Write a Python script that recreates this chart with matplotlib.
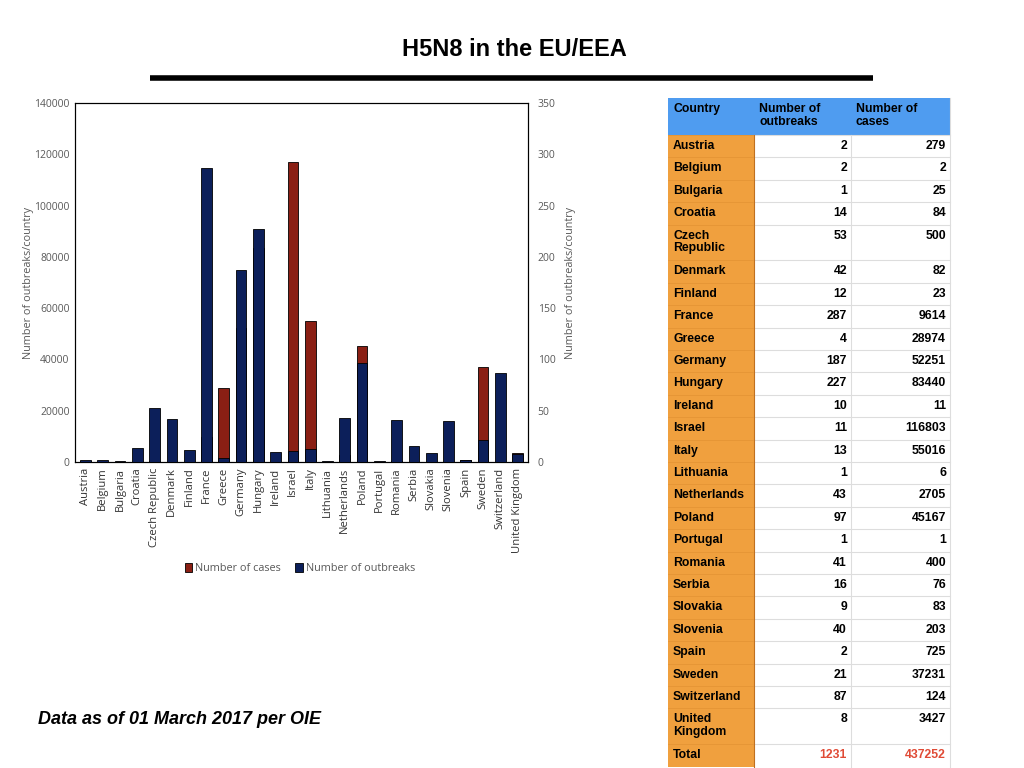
import numpy as np
import matplotlib.pyplot as plt
from matplotlib.patches import Rectangle

countries = ["Austria", "Belgium", "Bulgaria", "Croatia", "Czech Republic", "Denmark",
             "Finland", "France", "Greece", "Germany", "Hungary", "Ireland", "Israel",
             "Italy", "Lithuania", "Netherlands", "Poland", "Portugal", "Romania",
             "Serbia", "Slovakia", "Slovenia", "Spain", "Sweden", "Switzerland",
             "United Kingdom"]
outbreaks = [2, 2, 1, 14, 53, 42, 12, 287, 4, 187, 227, 10, 11, 13, 1, 43, 97, 1, 41,
             16, 9, 40, 2, 21, 87, 8]
cases = [279, 2, 25, 84, 500, 82, 23, 9614, 28974, 52251, 83440, 11, 116803, 55016, 6,
         2705, 45167, 1, 400, 76, 83, 203, 725, 37231, 124, 3427]
total_outbreaks = 1231
total_cases = 437252

red = "#8a1f14"
navy = "#0c1f5a"
grey = "#595959"
chart_font = ['Open Sans', 'DejaVu Sans']

fig = plt.figure(figsize=(10.24, 7.68), dpi=100)
plt.rcParams['font.family'] = ['Liberation Sans', 'DejaVu Sans']

# chart
ax = fig.add_axes([0.0733, 0.3984, 0.4423, 0.4675])
x = np.arange(len(countries))
b1 = ax.bar(x, cases, width=0.62, color=red, edgecolor="black", linewidth=0.6, zorder=2)
ax.set_ylim(0, 140000)
ax.set_xlim(-0.6, len(countries) - 0.4)
ax.set_yticks(np.arange(0, 140001, 20000))
ax.set_xticks(x)
ax.set_xticklabels(countries, rotation=90, fontsize=8.1, color="#333333", family=chart_font)
ax.tick_params(length=0, labelsize=7.5, colors=grey, pad=4)
ax.tick_params(axis="x", colors="#333333", labelcolor="#333333", labelsize=8.1)
for lbl in ax.get_yticklabels():
    lbl.set_family(chart_font)
ax.set_ylabel("Number of outbreaks/country", fontsize=7.8, color=grey,
              family=chart_font, labelpad=0)

ax2 = ax.twinx()
b2 = ax2.bar(x, outbreaks, width=0.62, color=navy, edgecolor="black", linewidth=0.6, zorder=3)
ax2.set_ylim(0, 350)
ax2.set_yticks(np.arange(0, 351, 50))
ax2.tick_params(length=0, labelsize=7.5, colors=grey, pad=7)
for lbl in ax2.get_yticklabels():
    lbl.set_family(chart_font)
ax2.set_ylabel("Number of outbreaks/country", fontsize=7.8, color=grey,
               family=chart_font, labelpad=7)
for a in (ax, ax2):
    for s in a.spines.values():
        s.set_linewidth(0.8)

fig.legend([b1, b2], ["Number of cases", "Number of outbreaks"], loc="center",
           bbox_to_anchor=(0.293, 0.26), ncol=2, frameon=False,
           handlelength=0.7, handleheight=0.9, handletextpad=0.3, columnspacing=1.3,
           prop={'family': chart_font, 'size': 7.8})
for t in fig.legends[0].get_texts():
    t.set_color(grey)

# overlay in pixel coordinates for title, rule, table, note
ov = fig.add_axes([0, 0, 1, 1], zorder=-1)
ov.set_xlim(0, 1024)
ov.set_ylim(768, 0)
ov.axis("off")

ov.text(514, 50, "H5N8 in the EU/EEA", ha="center", va="center", fontsize=17,
        fontweight="bold")
ov.plot([150, 873], [78, 78], color="black", linewidth=4, solid_capstyle="butt")
ov.text(38, 720, "Data as of 01 March 2017 per OIE", ha="left", va="center",
        fontsize=13, fontweight="bold", style="italic")

# table
blue = "#4f9cf0"
orange = "#f0a03e"
cx = [668, 754, 851, 950]
top = 98
head_h = 37
row_h = 22.4
dbl_h = 35.8
fs = 8.8

ov.add_patch(Rectangle((cx[0], top), cx[3] - cx[0], head_h, color=blue, lw=0))
headers = ["Country", "Number of\noutbreaks", "Number of\ncases"]
for i, h in enumerate(headers):
    ov.text(cx[i] + 5, top + 5, h, ha="left", va="top", fontsize=fs,
            fontweight="bold", linespacing=1.1, multialignment="left")

names = [c.replace(" ", "\n") if len(c) > 12 else c for c in countries] + ["Total"]
outs = [str(v) for v in outbreaks] + [str(total_outbreaks)]
cass = [str(v) for v in cases] + [str(total_cases)]

y = top + head_h
for i, name in enumerate(names):
    h = dbl_h if "\n" in name else row_h
    ov.add_patch(Rectangle((cx[0], y), cx[1] - cx[0], h, color=orange, lw=0))
    ov.plot([cx[0], cx[1]], [y, y], color="#e59535", lw=0.6)
    ov.plot([cx[1], cx[3]], [y, y], color="#dddddd", lw=0.8)
    col = "#e04a35" if name == "Total" else "black"
    ov.text(cx[0] + 5, y + 5, name, ha="left", va="top", fontsize=fs,
            fontweight="bold", linespacing=1.1)
    ov.text(cx[2] - 4, y + 5, outs[i], ha="right", va="top", fontsize=fs,
            fontweight="bold", color=col)
    ov.text(cx[3] - 4, y + 5, cass[i], ha="right", va="top", fontsize=fs,
            fontweight="bold", color=col)
    y += h
ov.plot([cx[2], cx[2]], [top + head_h, y], color="#dddddd", lw=0.8)
ov.plot([cx[1], cx[1]], [top + head_h, y], color="#c07020", lw=0.8)
ov.plot([cx[3], cx[3]], [top, y], color="#dddddd", lw=0.8)

fig.savefig("out.png", dpi=100)
